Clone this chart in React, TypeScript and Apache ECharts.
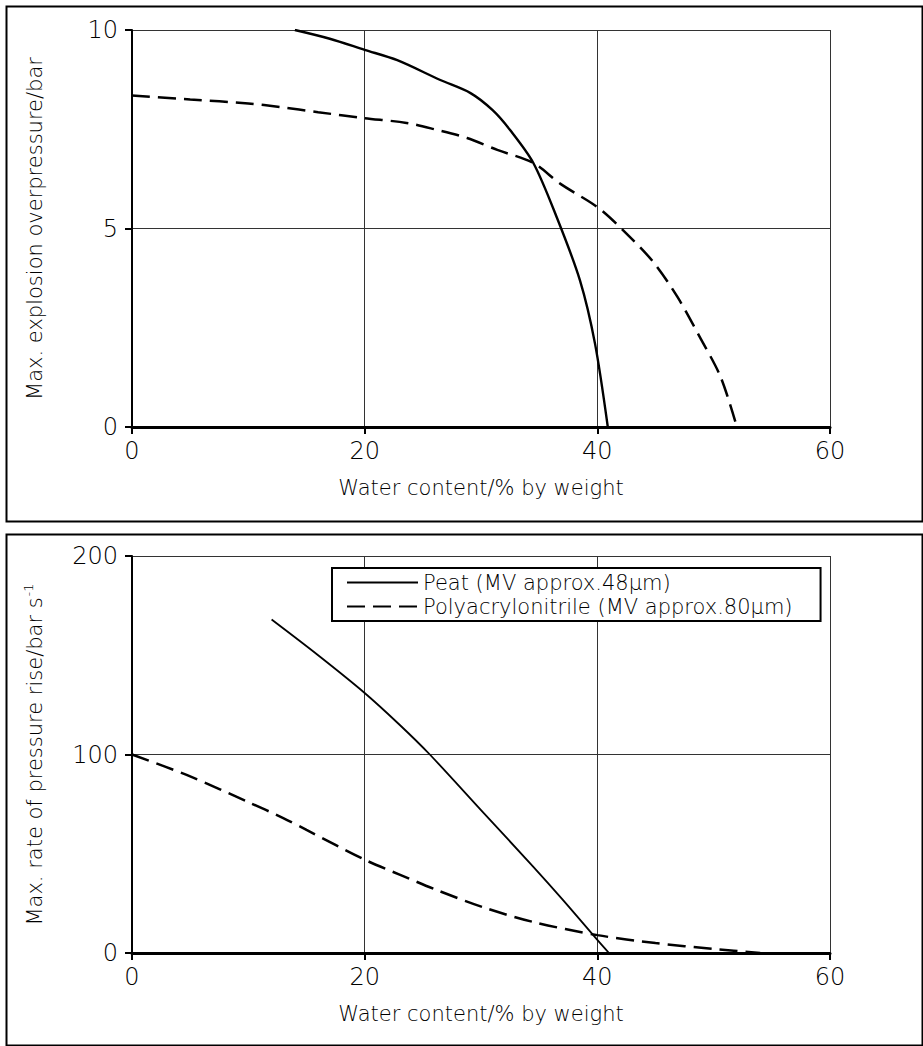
import React, { useEffect, useRef } from "react";
import * as echarts from "echarts";

// ---- data ----
const PEAT_NAME = "Peat (MV approx.48μm)";
const PAN_NAME = "Polyacrylonitrile (MV approx.80μm)";

const xTicks = [0, 20, 40, 60];
const overpressureTicks = [0, 5, 10];
const rateTicks = [0, 100, 200];

// Top: max. explosion overpressure / bar
const peatPressure: [number, number][] = [
  [14, 10], [17, 9.78], [20, 9.5], [22.8, 9.24], [26.5, 8.74], [29.1, 8.41],
  [31, 7.98], [32.5, 7.48], [34.5, 6.65], [36.5, 5.29], [38.5, 3.7],
  [39.8, 2.1], [40.9, 0],
];
const panPressure: [number, number][] = [
  [0, 8.35], [5, 8.25], [10, 8.15], [12.7, 8.06], [16, 7.93], [20, 7.78],
  [23.6, 7.66], [26, 7.5], [28.8, 7.28], [31.4, 6.98], [34.5, 6.65],
  [36.8, 6.13], [40, 5.54], [42.2, 4.96], [44.8, 4.16], [46.9, 3.27],
  [48.8, 2.27], [50.6, 1.26], [52, 0],
];

// Bottom: max. rate of pressure rise / bar s-1
const peatRate: [number, number][] = [
  [12, 168], [16, 150], [20, 131], [23, 115], [25.6, 100], [30.2, 70.7],
  [34.5, 43.4], [37, 27], [40, 6.6], [41, 0],
];
const panRate: [number, number][] = [
  [0, 100], [5, 89], [10, 76], [13, 68], [15, 62], [20, 47], [23, 39.5],
  [26.2, 31.7], [30.2, 23], [34.5, 15.6], [40, 9], [45, 5], [50, 2], [54, 0],
];

const FONT = "'DejaVu Sans', Lato, sans-serif";
const WEIGHT = 200;

function makeXAxis(gridIndex: number) {
  return {
    type: "value",
    gridIndex,
    min: xTicks[0],
    max: xTicks[xTicks.length - 1],
    interval: xTicks[1] - xTicks[0],
    name: "Water content/% by weight",
    nameLocation: "middle",
    nameGap: 50,
    nameTextStyle: { fontFamily: FONT, fontWeight: WEIGHT, fontSize: 21, color: "#000" },
    axisLine: { show: true, onZero: false, lineStyle: { color: "#000", width: 3 } },
    axisTick: { show: true, inside: false, length: 7, lineStyle: { color: "#000", width: 2 } },
    axisLabel: { fontFamily: FONT, fontWeight: WEIGHT, fontSize: 24, color: "#000", margin: 12 },
    splitLine: { show: true, lineStyle: { color: "#333", width: 1 } },
  };
}

function makeYAxis(gridIndex: number, ticks: number[], name: string) {
  return {
    type: "value",
    gridIndex,
    min: ticks[0],
    max: ticks[ticks.length - 1],
    interval: ticks[1] - ticks[0],
    name,
    nameLocation: "middle",
    nameGap: 85,
    nameTextStyle: {
      fontFamily: FONT, fontWeight: WEIGHT, fontSize: 21, color: "#000", lineHeight: 25,
      rich: {
        sup: {
          fontFamily: FONT, fontWeight: WEIGHT, fontSize: 13, color: "#000",
          verticalAlign: "top", lineHeight: 25, padding: [0, 0, 8, 1],
        },
      },
    },
    axisLine: { show: true, onZero: false, lineStyle: { color: "#000", width: 2 } },
    axisTick: { show: true, inside: false, length: 7, lineStyle: { color: "#000", width: 2 } },
    axisLabel: { fontFamily: FONT, fontWeight: WEIGHT, fontSize: 24, color: "#000", margin: 14 },
    splitLine: { show: true, lineStyle: { color: "#333", width: 1 } },
  };
}

const solidStyle = { color: "#000", width: 2.4, type: "solid" as const };
const dashStyle = { color: "#000", width: 2.5, type: [18, 8] as any };

export default function App() {
  const ref = useRef<HTMLDivElement>(null);

  useEffect(() => {
    if (!ref.current) return;
    const chart = echarts.init(ref.current, undefined, { renderer: "svg" });
    chart.setOption({
      animation: false,
      backgroundColor: "#fff",
      grid: [
        { left: 132, top: 30, width: 698, height: 397 },
        { left: 132, top: 556, width: 698, height: 397 },
      ],
      xAxis: [makeXAxis(0), makeXAxis(1)],
      yAxis: [
        makeYAxis(0, overpressureTicks, "Max. explosion overpressure/bar"),
        makeYAxis(1, rateTicks, "Max. rate of pressure rise/bar s{sup|-1}"),
      ],
      legend: {
        data: [PEAT_NAME, PAN_NAME],
        orient: "vertical",
        left: 332,
        top: 568,
        backgroundColor: "#fff",
        borderColor: "#000",
        borderWidth: 2,
        borderRadius: 0,
        padding: [4, 28, 4, 14],
        itemWidth: 71,
        itemHeight: 12,
        itemGap: 3,
        selectedMode: false,
        itemStyle: { opacity: 0 },
        textStyle: { fontFamily: FONT, fontWeight: WEIGHT, fontSize: 21, color: "#000" },
      },
      series: [
        {
          name: PEAT_NAME, type: "line", xAxisIndex: 0, yAxisIndex: 0,
          data: peatPressure, smooth: 0.3, symbol: "none",
          lineStyle: solidStyle, itemStyle: { color: "#000" },
        },
        {
          name: PAN_NAME, type: "line", xAxisIndex: 0, yAxisIndex: 0,
          data: panPressure, smooth: 0.3, symbol: "none",
          lineStyle: dashStyle, itemStyle: { color: "#000" },
        },
        {
          name: PEAT_NAME, type: "line", xAxisIndex: 1, yAxisIndex: 1,
          data: peatRate, smooth: 0.3, symbol: "none",
          lineStyle: { ...solidStyle, width: 1.8 }, itemStyle: { color: "#000" },
        },
        {
          name: PAN_NAME, type: "line", xAxisIndex: 1, yAxisIndex: 1,
          data: panRate, smooth: 0.3, symbol: "none",
          lineStyle: dashStyle, itemStyle: { color: "#000" },
        },
      ],
      graphic: [
        {
          type: "rect", left: 4, top: 4, silent: true, z: -1,
          shape: { width: 916, height: 515 },
          style: { fill: "none", stroke: "#000", lineWidth: 2 },
        },
        {
          type: "rect", left: 4, top: 532, silent: true, z: -1,
          shape: { width: 916, height: 511 },
          style: { fill: "none", stroke: "#000", lineWidth: 2 },
        },
      ],
    });
    return () => chart.dispose();
  }, []);

  return (
    <div
      ref={ref}
      style={{ position: "absolute", left: 0, top: 0, width: 923, height: 1046 }}
    />
  );
}
